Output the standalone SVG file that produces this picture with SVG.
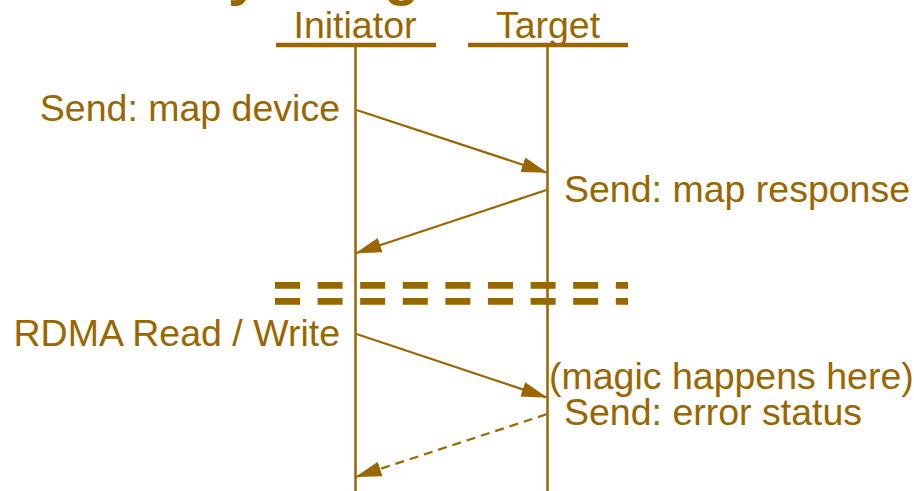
<svg xmlns="http://www.w3.org/2000/svg" width="914" height="491" viewBox="0 0 914 491">
  <style>
    text { font-family: "Liberation Sans", Arial, sans-serif; fill: #996600; }
    .lbl { font-size: 37.5px; }
    .title { font-size: 58px; font-weight: bold; }
    .life { stroke: #996600; stroke-width: 2.5; fill: none; }
    .head { stroke: #996600; stroke-width: 4.5; fill: none; }
    .msg { stroke: #996600; stroke-width: 2.2; fill: none; marker-end: url(#arrow); }
    .dash { stroke-dasharray: 9 6; }
    .sep { stroke: #996600; stroke-width: 6.7; fill: none; stroke-dasharray: 25 17.6; }
  </style>
  <defs>
    <marker id="arrow" markerUnits="userSpaceOnUse" markerWidth="26" markerHeight="16" viewBox="0 0 24 14" refX="23" refY="7" orient="auto">
      <path d="M0,0 L24,7 L0,14 Z" fill="#996600"/>
    </marker>
  </defs>

  <rect width="914" height="491" fill="#ffffff"/>

  <!-- heading, clipped at the top edge -->
  <g id="title">
    <text class="title" x="228" y="-6">y</text>
    <text class="title" x="384" y="-6">g</text>
  </g>

  <!-- participants -->
  <g id="initiator">
    <text class="lbl" x="355" y="38" text-anchor="middle">Initiator</text>
    <line class="head" x1="276" y1="45" x2="436" y2="45"/>
    <line class="life" x1="355.5" y1="47" x2="355.5" y2="491"/>
  </g>
  <g id="target">
    <text class="lbl" x="548" y="38" text-anchor="middle">Target</text>
    <line class="head" x1="468" y1="45" x2="628" y2="45"/>
    <line class="life" x1="547.5" y1="47" x2="547.5" y2="491"/>
  </g>

  <!-- phase separator -->
  <g id="separator">
    <line class="sep" x1="275" y1="285.3" x2="628" y2="285.3"/>
    <line class="sep" x1="275" y1="301.3" x2="628" y2="301.3"/>
  </g>

  <!-- message labels -->
  <g id="labels">
    <text class="lbl" x="340" y="121" text-anchor="end">Send: map device</text>
    <text class="lbl" x="564" y="202">Send: map response</text>
    <text class="lbl" x="340" y="346" text-anchor="end">RDMA Read / Write</text>
    <text class="lbl" x="549" y="389">(magic happens here)</text>
    <text class="lbl" x="564" y="425">Send: error status</text>
  </g>

  <!-- messages -->
  <g id="connectors">
    <line class="msg" x1="356.5" y1="110" x2="546.5" y2="172.5"/>
    <line class="msg" x1="546.5" y1="190" x2="356.5" y2="253"/>
    <line class="msg" x1="356.5" y1="334" x2="546.5" y2="397.3"/>
    <line class="msg dash" x1="546.5" y1="414.3" x2="356.5" y2="476.7"/>
  </g>
</svg>
